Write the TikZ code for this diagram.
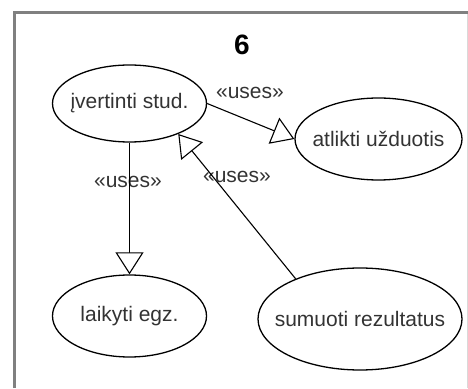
\documentclass[tikz,border=0pt]{standalone}
\usepackage{fontspec}
\setmainfont{Liberation Sans}
\usetikzlibrary{positioning,arrows.meta,shapes.geometric}
\definecolor{ucmoldura}{HTML}{808080}
\definecolor{ucmolduraclara}{HTML}{D9D9D9}
\definecolor{uctexto}{HTML}{333333}
\newcommand{\uctxt}[1]{\hbox to 0pt{\hss #1\hss}}
\tikzset{
  uccaso/.style={draw=black, ellipse, line width=1.3pt, inner sep=0pt,
                 text=uctexto, font=\fontsize{21}{25}\selectfont},
  ucseta/.style={-{Triangle[length=22pt, width=28pt, fill=white, line width=1.1pt]},
                 line width=1.1pt, draw=black},
  ucrotulo/.style={text=uctexto, font=\fontsize{21}{25}\selectfont, inner sep=0pt},
}

\begin{document}
\begin{tikzpicture}[x=1pt, y=1pt]
    \useasboundingbox (0,0) rectangle (468,388);
    % moldura
    \draw[ucmolduraclara, line width=1pt] (467.5,0) -- (467.5,375);
    \draw[ucmoldura, line width=3pt] (14.5,0) -- (14.5,375) -- (468,375);
    % titulo
    \node[font=\fontsize{28}{32}\selectfont\bfseries, inner sep=0pt] (titulo) at (242,343) {6};
    % casos de uso
    \node[uccaso, minimum width=154pt, minimum height=77pt] (ivert) at (129.5,284.5) {\uctxt{įvertinti stud.}};
    \node[uccaso, minimum width=167pt, minimum height=82pt] (atlikti) at (378.5,249) {\uctxt{atlikti užduotis}};
    \node[uccaso, minimum width=154pt, minimum height=82pt] (laikyti) at (129.5,72) {\uctxt{laikyti egz.}};
    \node[uccaso, minimum width=204pt, minimum height=102pt] (sumuoti) at (360,69) {\uctxt{sumuoti rezultatus}};
    % rotulos
    \node[ucrotulo] (uses1) at (250,295) {«uses»};
    \node[ucrotulo] (uses2) at (128,206) {«uses»};
    \node[ucrotulo] (uses3) at (237,211) {«uses»};
    % relacoes
    \draw[ucseta] (ivert.east) -- (atlikti.west);
    \draw[ucseta] (ivert.south) -- (laikyti.north);
    \draw[ucseta] (sumuoti.148) -- (ivert.-32);
\end{tikzpicture}
\end{document}
